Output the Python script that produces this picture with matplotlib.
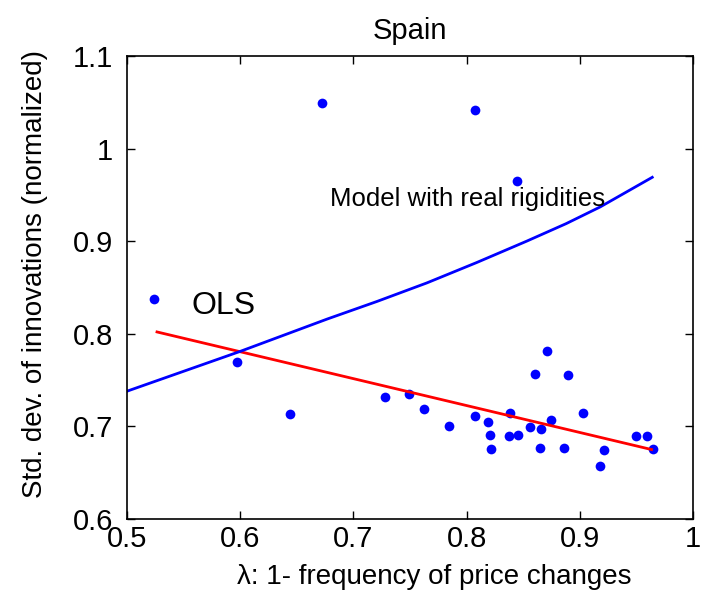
import matplotlib
matplotlib.use("Agg")
import matplotlib.pyplot as plt

plt.rcParams['font.family'] = ['Liberation Sans', 'DejaVu Sans']

# country data: lambda (1 - freq of price changes) vs normalized std. dev.
lam = [0.5237, 0.5973, 0.6444, 0.6719, 0.7278, 0.7488, 0.7627, 0.7841,
       0.8071, 0.8078, 0.8186, 0.8207, 0.8217, 0.8373, 0.8386, 0.8444,
       0.8451, 0.8559, 0.8607, 0.8647, 0.8661, 0.8712, 0.8746, 0.8858,
       0.8892, 0.9031, 0.9180, 0.9210, 0.9495, 0.9597, 0.9644]
sd = [0.838, 0.769, 0.713, 1.049, 0.732, 0.735, 0.719, 0.700,
      1.042, 0.711, 0.705, 0.691, 0.676, 0.690, 0.715, 0.965,
      0.691, 0.699, 0.757, 0.677, 0.697, 0.781, 0.707, 0.677,
      0.755, 0.714, 0.657, 0.674, 0.690, 0.690, 0.676]

# OLS fit end points
ols_x = [0.5265, 0.9634]
ols_y = [0.802, 0.675]

# model with real rigidities
model_x = [0.5, 0.600, 0.677, 0.721, 0.765, 0.809, 0.853, 0.888, 0.918, 0.964]
model_y = [0.738, 0.781, 0.816, 0.835, 0.855, 0.877, 0.900, 0.919, 0.937, 0.969]

fig = plt.figure(figsize=(7.04, 6.08), dpi=100)
ax = fig.add_axes([0.1804, 0.1464, 0.804, 0.7615])

ax.plot(lam, sd, 'o', color='#0000ff', markersize=7, markeredgewidth=0)
ax.plot(ols_x, ols_y, '-', color='#ff0000', linewidth=2)
ax.plot(model_x, model_y, '-', color='#0000ff', linewidth=2)

ax.text(0.5574, 0.830, "OLS", fontsize=23, va='center', ha='left')
ax.text(0.679, 0.946, "Model with real rigidities", fontsize=18.5, va='center', ha='left')

ax.set_xlim(0.5, 1.0)
ax.set_ylim(0.6, 1.1)
ax.set_xticks([0.5, 0.6, 0.7, 0.8, 0.9, 1.0])
ax.set_xticklabels(['0.5', '0.6', '0.7', '0.8', '0.9', '1'])
ax.set_yticks([0.6, 0.7, 0.8, 0.9, 1.0, 1.1])
ax.set_yticklabels(['0.6', '0.7', '0.8', '0.9', '1', '1.1'])
ax.tick_params(direction='in', top=True, right=True, labelsize=21, length=6, width=1)
ax.tick_params(axis='x', pad=4)
ax.tick_params(axis='y', pad=10)
for s in ax.spines.values():
    s.set_linewidth(1.2)

ax.set_title("Spain", fontsize=21, pad=12)
ax.set_xlabel("λ: 1- frequency of price changes", fontsize=20)
ax.set_ylabel("Std. dev. of innovations (normalized)", fontsize=20)
ax.xaxis.set_label_coords(0.542, -0.098)
ax.yaxis.set_label_coords(-0.14, 0.529)

fig.savefig("out.png", dpi=100)
